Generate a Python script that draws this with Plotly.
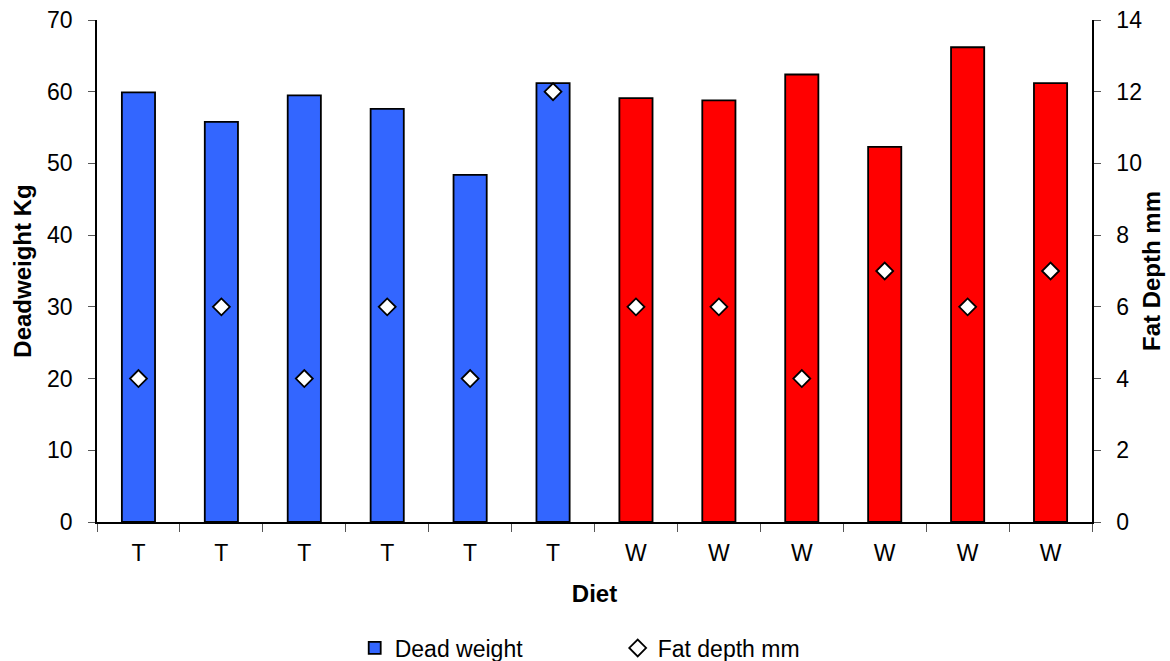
import plotly.graph_objects as go

diet = ["T", "T", "T", "T", "T", "T", "W", "W", "W", "W", "W", "W"]
dead_weight = [59.9, 55.8, 59.5, 57.6, 48.4, 61.2, 59.1, 58.8, 62.4, 52.3, 66.2, 61.2]
fat_depth = [4, 6, 4, 6, 4, 12, 6, 6, 4, 7, 6, 7]
bar_colors = ["#3366FF" if d == "T" else "#FF0000" for d in diet]
positions = list(range(len(diet)))

font_family = "Arial, 'Liberation Sans', sans-serif"

fig = go.Figure()
fig.add_trace(go.Bar(
    x=positions, y=dead_weight, name="Dead weight",
    marker=dict(color=bar_colors, line=dict(color="black", width=1.8)),
    width=0.4, yaxis="y",
))
fig.add_trace(go.Scatter(
    x=positions, y=fat_depth, name="Fat depth mm", mode="markers",
    marker=dict(symbol="diamond", size=13, color="white", line=dict(color="black", width=1.8)),
    yaxis="y2",
))

fig.update_layout(
    width=1170, height=661,
    margin=dict(l=97, r=78, t=20, b=139),
    plot_bgcolor="white", paper_bgcolor="white",
    font=dict(family=font_family, size=23, color="black"),
    showlegend=True,
    legend=dict(orientation="h", x=0.259, xanchor="left",
                yref="container", y=13 / 661, yanchor="middle",
                font=dict(size=23), entrywidth=218, itemwidth=30),
    xaxis=dict(
        range=[-0.5, 11.5], tickmode="array", tickvals=positions, ticktext=diet,
        ticks="", showgrid=False, zeroline=False, automargin=False,
        showline=True, linecolor="black", linewidth=1.5,
        minor=dict(tickmode="array", tickvals=[i - 0.5 for i in range(13)],
                   ticks="outside", ticklen=8, tickcolor="#555", tickwidth=1, showgrid=False),
        title=dict(text="<b>Diet</b>", font=dict(size=24), standoff=20),
        ticklabelstandoff=10,
    ),
    yaxis=dict(
        range=[0, 70], dtick=10, showgrid=False, zeroline=False, automargin=False,
        showline=True, linecolor="black", linewidth=1.5,
        ticks="outside", ticklen=7, tickcolor="#555", ticklabelstandoff=11,
        title=dict(text="<b>Deadweight Kg</b>", font=dict(size=24), standoff=9),
    ),
    yaxis2=dict(
        range=[0, 14], dtick=2, overlaying="y", side="right", showgrid=False, zeroline=False,
        automargin=False,
        showline=True, linecolor="black", linewidth=1.5,
        ticks="outside", ticklen=7, tickcolor="#555", ticklabelstandoff=11,
        title=dict(text="<b>Fat Depth mm</b>", font=dict(size=24), standoff=2),
    ),
)

fig.write_html("out.html", config={"displayModeBar": False},
               post_script="document.body.style.margin='0';")
